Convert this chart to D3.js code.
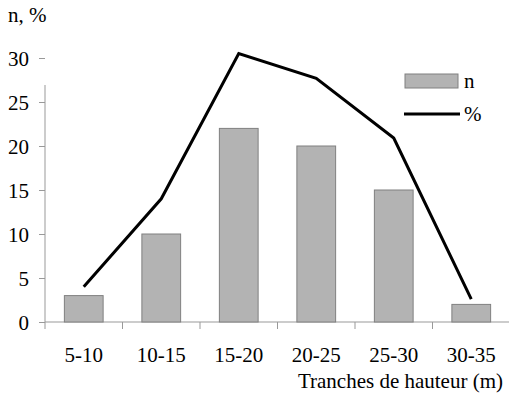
<!DOCTYPE html>
<html>
<head>
<meta charset="utf-8">
<script src="https://cdn.jsdelivr.net/npm/d3@7"></script>
</head>
<body style="margin:0">
<script>
var categories = ["5-10", "10-15", "15-20", "20-25", "25-30", "30-35"];
var nValues = [3, 10, 22, 20, 15, 2];
var pctValues = [4.0, 14.0, 30.5, 27.7, 20.9, 2.6];
var yTicks = [0, 5, 10, 15, 20, 25, 30];

var width = 509,
    height = 400;

var svg = d3.select("body")
    .append("svg")
        .attr("width", width)
        .attr("height", height)
        .style("font-family", "'Liberation Serif'")
        .attr("font-family", "Liberation Serif");

function serifText(sel) {
    return sel
        .attr("font-family", "Liberation Serif")
        .style("font-family", "'Liberation Serif'")
        .style("font-size", "21px");
}

var x = d3.scaleBand()
    .domain(categories)
    .range([45, 510])
    .paddingInner(0.5)
    .paddingOuter(0.25);

var xOuter = d3.scaleBand()
    .domain(categories)
    .range([45, 510]);

var y = d3.scaleLinear()
    .domain([0, 30])
    .range([322, 58]);

// y axis
var yAxis = svg.append("g")
    .attr("transform", "translate(45,0)")
    .call(d3.axisLeft(y).tickValues(yTicks).tickSize(6).tickPadding(10).tickSizeOuter(0));
yAxis.attr("font-family", "Liberation Serif").attr("font-size", 21);
yAxis.select(".domain").attr("d", "M0,85V322").attr("stroke", "#999");
yAxis.selectAll(".tick line").attr("stroke", "#999");
yAxis.selectAll(".tick text")
    .attr("fill", "#000")
    .attr("dy", "0.35em")
    .call(serifText);

// x axis
svg.append("line")
    .attr("x1", 45).attr("x2", 509)
    .attr("y1", 322).attr("y2", 322)
    .attr("stroke", "#999");

svg.selectAll(".xtick")
    .data(categories)
    .enter()
    .append("line")
    .attr("class", "xtick")
    .attr("x1", function(d) { return xOuter(d); })
    .attr("x2", function(d) { return xOuter(d); })
    .attr("y1", 322).attr("y2", 329)
    .attr("stroke", "#999");

svg.selectAll(".xlabel")
    .data(categories)
    .enter()
    .append("text")
    .attr("class", "xlabel")
    .attr("x", function(d) { return x(d) + x.bandwidth() / 2; })
    .attr("y", 362)
    .attr("text-anchor", "middle")
    .call(serifText)
    .text(function(d) { return d; });

// bars
svg.selectAll(".bar")
    .data(nValues)
    .enter()
    .append("rect")
    .attr("class", "bar")
    .attr("x", function(d, i) { return x(categories[i]); })
    .attr("y", function(d) { return y(d); })
    .attr("width", x.bandwidth())
    .attr("height", function(d) { return y(0) - y(d); })
    .attr("fill", "#b3b3b3")
    .attr("stroke", "#808080")
    .attr("stroke-width", 1);

// line
var line = d3.line()
    .x(function(d, i) { return x(categories[i]) + x.bandwidth() / 2; })
    .y(function(d) { return y(d); });

svg.append("path")
    .datum(pctValues)
    .attr("d", line)
    .attr("fill", "none")
    .attr("stroke", "#000")
    .attr("stroke-width", 3);

// axis titles
svg.append("text")
    .attr("x", 8)
    .attr("y", 22)
    .call(serifText)
    .text("n, %");

svg.append("text")
    .attr("x", 503)
    .attr("y", 388)
    .attr("text-anchor", "end")
    .call(serifText)
    .text("Tranches de hauteur (m)");

// legend
svg.append("rect")
    .attr("x", 405).attr("y", 74)
    .attr("width", 53).attr("height", 14)
    .attr("fill", "#b3b3b3")
    .attr("stroke", "#808080");
svg.append("text")
    .attr("x", 464).attr("y", 88)
    .call(serifText)
    .text("n");
svg.append("line")
    .attr("x1", 404).attr("x2", 460)
    .attr("y1", 114).attr("y2", 114)
    .attr("stroke", "#000")
    .attr("stroke-width", 3);
svg.append("text")
    .attr("x", 464).attr("y", 121)
    .call(serifText)
    .text("%");
</script>
</body>
</html>
